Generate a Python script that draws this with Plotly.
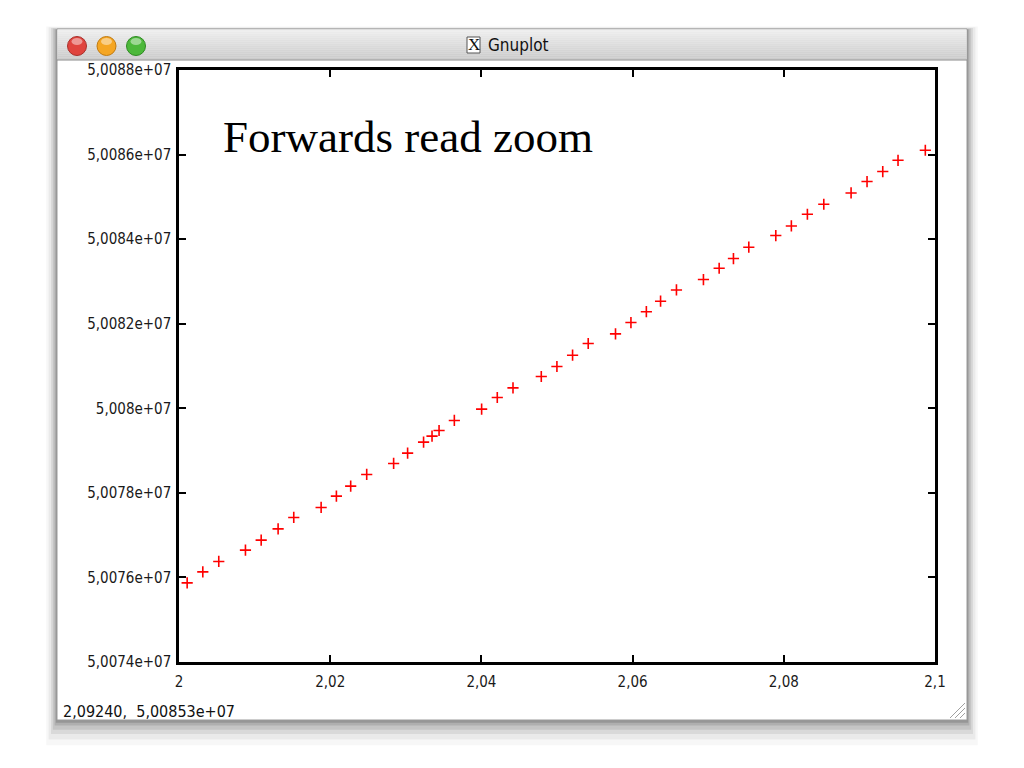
import plotly.graph_objects as go

# ---- data ----
x_vals = [2.00108, 2.00315, 2.00526, 2.00879, 2.01087, 2.01311, 2.01518, 2.01880,
          2.02082, 2.02271, 2.02483, 2.02839, 2.03024, 2.03235, 2.03347, 2.03440,
          2.03642, 2.04003, 2.04210, 2.04418, 2.04792, 2.04999, 2.05206, 2.05413,
          2.05774, 2.05978, 2.06182, 2.06370, 2.06580, 2.06937, 2.07145, 2.07334,
          2.07537, 2.07894, 2.08100, 2.08312, 2.08529, 2.08890, 2.09101, 2.09309,
          2.09511, 2.09872]
y_vals = [50075872, 50076132, 50076378, 50076646, 50076882, 50077149, 50077419, 50077655,
          50077922, 50078159, 50078435, 50078695, 50078939, 50079199, 50079341, 50079475,
          50079712, 50079979, 50080255, 50080482, 50080752, 50080988, 50081255, 50081532,
          50081759, 50082028, 50082284, 50082532, 50082799, 50083045, 50083312, 50083541,
          50083809, 50084085, 50084312, 50084589, 50084825, 50085092, 50085362, 50085598,
          50085865, 50086102]

x_ticks = [2.00, 2.02, 2.04, 2.06, 2.08, 2.10]
x_ticktext = ["2", "2,02", "2,04", "2,06", "2,08", "2,1"]
y_ticks = [50074000, 50076000, 50078000, 50080000, 50082000, 50084000, 50086000, 50088000]
y_ticktext = ["5,0074e+07", "5,0076e+07", "5,0078e+07", "5,008e+07",
              "5,0082e+07", "5,0084e+07", "5,0086e+07", "5,0088e+07"]

title_text = "Forwards read zoom"
window_title = "Gnuplot"
status_text = "2,09240,  5,00853e+07"

# ---- geometry (reference pixel coords; page body has an 8px margin) ----
OFF = 8
W, H = 1024 - 2 * OFF, 768 - 2 * OFF
L, R, T, B = 179, 935, 70, 662


def px(x):
    return (x - L) / (R - L)


def py(y):
    return (B - y) / (B - T)


fig = go.Figure()
fig.add_trace(go.Scatter(
    x=x_vals, y=y_vals, mode="markers",
    marker=dict(symbol="cross-thin", size=8, line=dict(color="#ff0000", width=1.6)),
    hoverinfo="skip", showlegend=False,
))

shapes = []
# window drop shadow
for off, op in [(18, 0.03), (14, 0.05), (10, 0.07), (7, 0.09), (4, 0.11), (2, 0.14)]:
    shapes.append(dict(type="rect", xref="paper", yref="paper", layer="below",
                       x0=px(57 - off * 0.6), x1=px(967 + off * 0.6),
                       y0=py(720 + off * 1.4), y1=py(30 - off * 0.2),
                       fillcolor=f"rgba(0,0,0,{op})", line=dict(width=0)))
# window body
shapes.append(dict(type="rect", xref="paper", yref="paper", layer="below",
                   x0=px(57), x1=px(967), y0=py(720), y1=py(29),
                   fillcolor="white", line=dict(color="#9a9a9a", width=1)))
# title bar gradient (stripes)
n = 15
top, bot = 29.5, 59.5
for i in range(n):
    c = int(238 - (238 - 204) * i / (n - 1))
    y0 = top + (bot - top) * i / n
    y1 = top + (bot - top) * (i + 1) / n
    shapes.append(dict(type="rect", xref="paper", yref="paper", layer="below",
                       x0=px(57.5), x1=px(966.5), y0=py(y1 + 0.3), y1=py(y0),
                       fillcolor=f"rgb({c},{c},{c})", line=dict(width=0)))
shapes.append(dict(type="line", xref="paper", yref="paper", layer="below",
                   x0=px(57), x1=px(967), y0=py(60), y1=py(60),
                   line=dict(color="#8a8a8a", width=1)))
# traffic lights
for cx, fill, edge in [(77, "#e0443e", "#a8302b"), (106.5, "#f5a623", "#c07a10"), (136, "#4cb83a", "#2e8a22")]:
    shapes.append(dict(type="circle", xref="paper", yref="paper", layer="below",
                       x0=px(cx - 9.5), x1=px(cx + 9.5), y0=py(55.5), y1=py(36.5),
                       fillcolor=fill, line=dict(color=edge, width=1)))
    shapes.append(dict(type="circle", xref="paper", yref="paper", layer="below",
                       x0=px(cx - 5.5), x1=px(cx + 5.5), y0=py(45), y1=py(38),
                       fillcolor="rgba(255,255,255,0.45)", line=dict(width=0)))
# X icon box in the title
shapes.append(dict(type="rect", xref="paper", yref="paper", layer="below",
                   x0=px(467), x1=px(480), y0=py(53), y1=py(37),
                   fillcolor="white", line=dict(color="#555", width=1)))
# resize grip
for k in range(3):
    d = 5 + 5 * k
    shapes.append(dict(type="line", xref="paper", yref="paper", layer="below",
                       x0=px(965 - d), x1=px(965), y0=py(718), y1=py(718 - d),
                       line=dict(color="#a0a0a0", width=1)))

annotations = [
    dict(text=title_text, xref="paper", yref="paper", x=px(221), y=py(137),
         xanchor="left", yanchor="middle", showarrow=False,
         font=dict(family="Liberation Serif", size=45, color="black")),
    dict(text=window_title, xref="paper", yref="paper", x=px(486), y=py(45),
         xanchor="left", yanchor="middle", showarrow=False,
         font=dict(family="DejaVu Sans Condensed", size=17, color="#111")),
    dict(text="X", xref="paper", yref="paper", x=px(473.5), y=py(45),
         xanchor="center", yanchor="middle", showarrow=False,
         font=dict(family="Liberation Serif", size=17, color="#111")),
    dict(text=status_text.replace(" ", "&nbsp;"), xref="paper", yref="paper", x=px(61), y=py(711),
         xanchor="left", yanchor="middle", showarrow=False,
         font=dict(family="DejaVu Sans Condensed", size=16, color="#111")),
]

axis_font = dict(family="DejaVu Sans Condensed", size=15, color="#1a1a1a")
fig.update_layout(
    width=W, height=H,
    margin=dict(l=L - OFF, r=W - (R - OFF), t=T - OFF, b=H - (B - OFF), autoexpand=False),
    paper_bgcolor="white", plot_bgcolor="rgba(0,0,0,0)",
    shapes=shapes, annotations=annotations, showlegend=False,
    xaxis=dict(range=[2.0, 2.1], tickmode="array", tickvals=x_ticks, ticktext=x_ticktext,
               ticks="inside", ticklen=7, tickwidth=2, tickcolor="black",
               showline=True, linewidth=2.5, linecolor="black", mirror="allticks",
               showgrid=False, zeroline=False, tickfont=axis_font, ticklabelstandoff=4),
    yaxis=dict(range=[50074000, 50088000], tickmode="array", tickvals=y_ticks, ticktext=y_ticktext,
               ticks="inside", ticklen=7, tickwidth=2, tickcolor="black",
               showline=True, linewidth=2.5, linecolor="black", mirror="allticks",
               showgrid=False, zeroline=False, tickfont=axis_font, ticklabelstandoff=2),
)

fig.write_html("out.html")
